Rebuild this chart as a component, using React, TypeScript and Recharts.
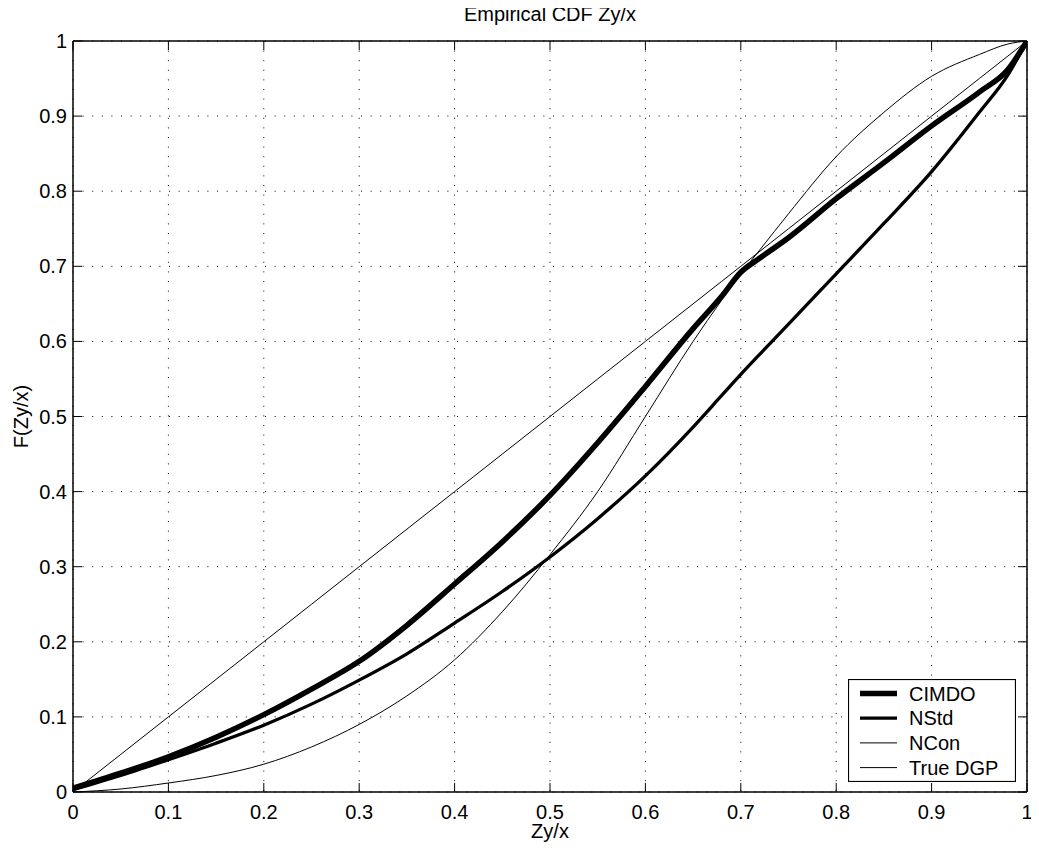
import React from "react";
import {
  LineChart,
  Line,
  XAxis,
  YAxis,
  CartesianGrid,
  Legend,
  Label,
} from "recharts";

const FONT = '"Liberation Sans", Arial, Helvetica, sans-serif';

const zValues = [
  0, 0.05, 0.1, 0.15, 0.2, 0.25, 0.3, 0.35, 0.4, 0.45, 0.5, 0.55, 0.6, 0.65,
  0.68, 0.7, 0.72, 0.75, 0.8, 0.85, 0.9, 0.95, 0.98, 1,
];
const cimdo = [
  0.005, 0.025, 0.047, 0.073, 0.103, 0.137, 0.174, 0.222, 0.277, 0.333, 0.395,
  0.465, 0.54, 0.617, 0.66, 0.692, 0.711, 0.738, 0.79, 0.838, 0.887, 0.932,
  0.962, 1,
];
const nstd = [
  0.003, 0.022, 0.043, 0.065, 0.089, 0.117, 0.149, 0.184, 0.225, 0.267, 0.313,
  0.364, 0.421, 0.486, 0.528, 0.556, 0.583, 0.623, 0.69, 0.757, 0.826, 0.905,
  0.955, 1,
];
const ncon = [
  0, 0.004, 0.012, 0.022, 0.037, 0.06, 0.09, 0.128, 0.176, 0.24, 0.316, 0.4,
  0.5, 0.6, 0.655, 0.69, 0.722, 0.77, 0.846, 0.905, 0.953, 0.982, 0.996, 1,
];
const trueDgp = [
  0, 0.05, 0.1, 0.15, 0.2, 0.25, 0.3, 0.35, 0.4, 0.45, 0.5, 0.55, 0.6, 0.65,
  0.68, 0.7, 0.72, 0.75, 0.8, 0.85, 0.9, 0.95, 0.98, 1,
];

const xTicks = [0, 0.1, 0.2, 0.3, 0.4, 0.5, 0.6, 0.7, 0.8, 0.9, 1];
const yTicks = [0, 0.1, 0.2, 0.3, 0.4, 0.5, 0.6, 0.7, 0.8, 0.9, 1];

const SERIES = [
  { key: "cimdo", name: "CIMDO", width: 5.5 },
  { key: "nstd", name: "NStd", width: 3.3 },
  { key: "ncon", name: "NCon", width: 1 },
  { key: "dgp", name: "True DGP", width: 1 },
];

const rows = zValues.map((z, i) => ({
  z,
  cimdo: cimdo[i],
  nstd: nstd[i],
  ncon: ncon[i],
  dgp: trueDgp[i],
}));

const TICK_LEN = 9;

const BottomTick = (props: any) => {
  const { x, y, payload } = props;
  return (
    <g>
      <line x1={x} x2={x} y1={y} y2={y - TICK_LEN} stroke="#000" />
      <text x={x} y={y + 27} textAnchor="middle" fontSize={20} fill="#000" fontFamily={FONT}>
        {payload.value}
      </text>
    </g>
  );
};

const TopTick = (props: any) => {
  const { x, y } = props;
  return <line x1={x} x2={x} y1={y} y2={y + TICK_LEN} stroke="#000" />;
};

const LeftTick = (props: any) => {
  const { x, y, payload } = props;
  return (
    <g>
      <line x1={x} x2={x + TICK_LEN} y1={y} y2={y} stroke="#000" />
      <text x={x - 6} y={y} dy="0.35em" textAnchor="end" fontSize={20} fill="#000" fontFamily={FONT}>
        {payload.value}
      </text>
    </g>
  );
};

const RightTick = (props: any) => {
  const { x, y } = props;
  return <line x1={x} x2={x - TICK_LEN} y1={y} y2={y} stroke="#000" />;
};

// legend keeps the plotting order, not the alphabetical one
const renderLegend = () => (
  <svg width={168} height={103} style={{ display: "block" }}>
    <rect x={0.5} y={0.5} width={167} height={102} fill="#fff" stroke="#000" strokeWidth={1.2} />
    {SERIES.map((s, i) => {
      const cy = 14.5 + i * 24.7;
      return (
        <g key={s.key}>
          <line x1={12} x2={49} y1={cy} y2={cy} stroke="#000" strokeWidth={s.width} />
          <text x={61} y={cy} dy="0.35em" fontSize={20} fill="#000" fontFamily={FONT}>
            {s.name}
          </text>
        </g>
      );
    })}
  </svg>
);

export default function App() {
  return (
    <div style={{ position: "relative", width: 1031, height: 838, fontFamily: FONT }}>
      <div
        style={{
          position: "absolute",
          left: 65,
          width: 954,
          top: -4,
          textAlign: "center",
          fontSize: 20,
          lineHeight: "20px",
          color: "#000",
        }}
      >
        Empirical CDF Zy/x
      </div>
      <LineChart
        width={1031}
        height={838}
        data={rows}
        margin={{ top: 32, right: 11, bottom: 4, left: 5 }}
      >
        <CartesianGrid stroke="#000" strokeDasharray="1 8.6" />
        <XAxis
          dataKey="z"
          type="number"
          domain={[0, 1]}
          ticks={xTicks}
          interval={0}
          allowDataOverflow
          height={50}
          tickSize={0}
          tickMargin={0}
          tickLine={false}
          tick={BottomTick}
          axisLine={{ stroke: "#000", strokeWidth: 1.5 }}
        >
          <Label
            value="Zy/x"
            position="insideBottom"
            offset={4}
            style={{ fontSize: 20, fill: "#000", fontFamily: FONT }}
          />
        </XAxis>
        <XAxis
          xAxisId="top"
          orientation="top"
          dataKey="z"
          type="number"
          domain={[0, 1]}
          ticks={xTicks}
          interval={0}
          allowDataOverflow
          height={1}
          tickSize={0}
          tickMargin={0}
          tickLine={false}
          tick={TopTick}
          axisLine={{ stroke: "#000", strokeWidth: 1.5 }}
        />
        <YAxis
          type="number"
          domain={[0, 1]}
          ticks={yTicks}
          interval={0}
          allowDataOverflow
          width={60}
          tickSize={0}
          tickMargin={0}
          tickLine={false}
          tick={LeftTick}
          axisLine={{ stroke: "#000", strokeWidth: 1.5 }}
        >
          <Label
            value="F(Zy/x)"
            angle={-90}
            position="insideLeft"
            offset={8}
            style={{ fontSize: 20, fill: "#000", fontFamily: FONT, textAnchor: "middle" }}
          />
        </YAxis>
        <YAxis
          yAxisId="right"
          orientation="right"
          dataKey="dgp"
          type="number"
          domain={[0, 1]}
          ticks={yTicks}
          interval={0}
          allowDataOverflow
          width={1}
          tickSize={0}
          tickMargin={0}
          tickLine={false}
          tick={RightTick}
          axisLine={{ stroke: "#000", strokeWidth: 1.5 }}
        />
        <Legend
          layout="vertical"
          align="center"
          verticalAlign="middle"
          content={renderLegend}
          wrapperStyle={{ left: 840, top: 671, width: 168, height: 103 }}
        />
        {SERIES.map((s) => (
          <Line
            key={s.key}
            type="monotone"
            dataKey={s.key}
            name={s.name}
            stroke="#000"
            strokeWidth={s.width}
            strokeLinejoin="round"
            dot={false}
            activeDot={false}
            isAnimationActive={false}
          />
        ))}
      </LineChart>
    </div>
  );
}
